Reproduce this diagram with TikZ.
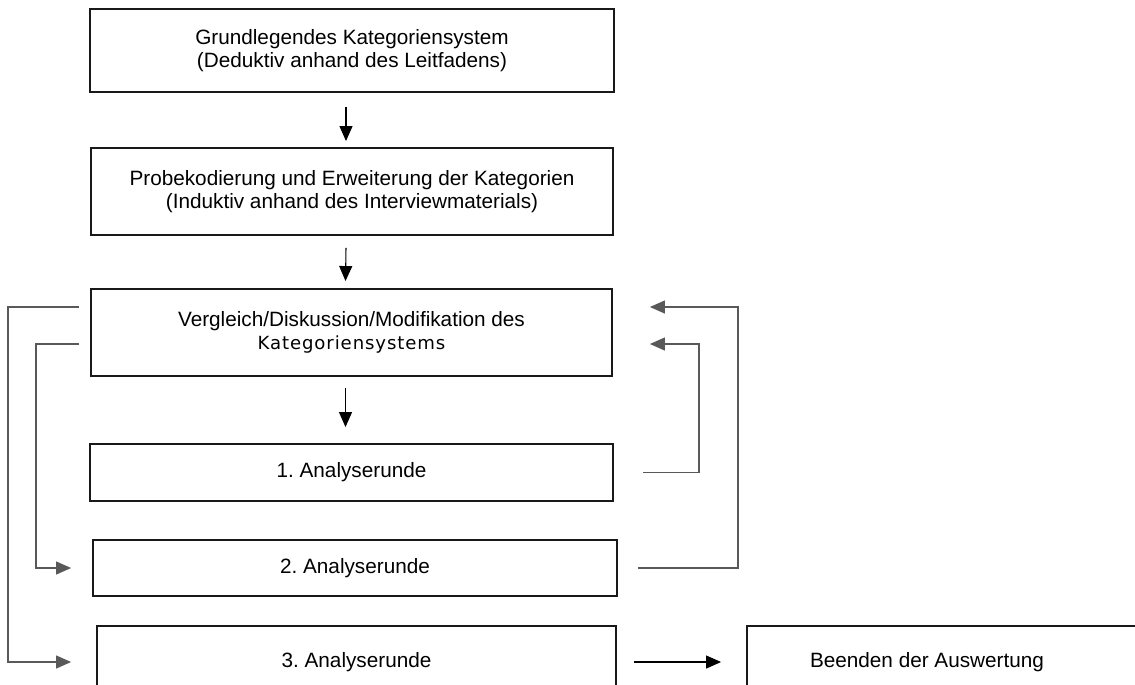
\documentclass[tikz,border=0pt]{standalone}
\usepackage{fontspec}
\setmainfont{Liberation Sans}
\newfontfamily\widefont{DejaVu Sans}[LetterSpace=5]
\usepackage{tikz}
\usetikzlibrary{arrows.meta, calc}
\frenchspacing

\begin{document}
\begin{tikzpicture}[
    x=0.02cm,
    y=0.02cm,
    font=\fontsize{11.8}{13.3}\selectfont,
    box/.style={
        rectangle,
        draw=black!90,
        line width=1.1pt,
        align=center,
        inner sep=0pt
    },
    arrow/.style={
        -{Triangle[length=0.3cm, width=0.26cm]},
        draw=black,
        line width=0.6pt
    },
    feedback/.style={
        -{Triangle[length=0.3cm, width=0.26cm]},
        draw=black!65,
        line width=0.7pt
    }
]
    \useasboundingbox (0,0) rectangle (1135,-684);
    \clip (0,0) rectangle (1135,-684);

    % Level 1: Category system
    \node [box, minimum width=10.48cm, minimum height=1.66cm] (b1) at (352,-50.5) {Grundlegendes Kategoriensystem\\ (Deduktiv anhand des Leitfadens)};
    \node [box, minimum width=10.44cm, minimum height=1.74cm] (b2) at (352,-191.5) {Probekodierung und Erweiterung der Kategorien\\ (Induktiv anhand des Interviewmaterials)};
    \node [box, minimum width=10.42cm, minimum height=1.74cm] (b3) at (351.5,-332.5) {Vergleich/Diskussion/Modifikation des\\ {\widefont\fontsize{10.3}{13.3}\selectfont Kategoriensystems}};

    % Level 2: Analysis rounds
    \node [box, minimum width=10.46cm, minimum height=1.14cm] (b4) at (351.5,-472.5) {1. Analyserunde};
    \node [box, minimum width=10.48cm, minimum height=1.12cm] (b5) at (355,-568) {2. Analyserunde};
    \node [box, minimum width=10.38cm, minimum height=1.44cm] (b6) at (356.5,-662) {3. Analyserunde};

    % Level 3: End
    \node [box, minimum width=7.96cm, minimum height=1.44cm] (b7) at (946,-662) {Beenden der Auswertung\hspace*{0.76cm}};

    % Connections
    \draw [arrow] ($(b1.south)+(-6,-14)$) -- ($(b2.north)+(-6,6)$);
    \draw [arrow] ($(b2.south)+(-6,-12)$) -- ($(b3.north)+(-6,7)$);
    \draw [arrow] ($(b3.south)+(-6,-11)$) -- ($(b4.north)+(-6,16)$);

    \draw [feedback] ($(b3.west)+(-11,25.5)$) -| ($(b6.west)+(-88,0)$) -- ($(b6.west)+(-25,0)$);
    \draw [feedback] ($(b3.west)+(-11,-11.5)$) -| ($(b5.west)+(-56,0)$) -- ($(b5.west)+(-21,0)$);

    \draw [feedback] ($(b4.east)+(29,0)$) -| ($(b3.east)+(86,-11.5)$) -- ($(b3.east)+(37,-11.5)$);
    \draw [feedback] ($(b5.east)+(20,0)$) -| ($(b3.east)+(125,25.5)$) -- ($(b3.east)+(37,25.5)$);

    \draw [arrow] ($(b6.east)+(17,0)$) -- ($(b7.west)+(-25,0)$);

\end{tikzpicture}
\end{document}
